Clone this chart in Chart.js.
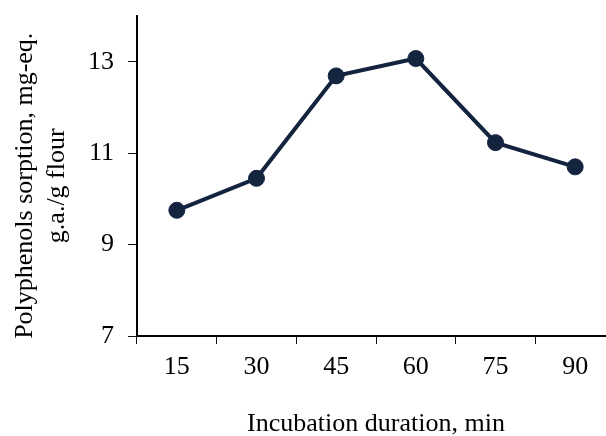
<!DOCTYPE html>
<html>
<head>
<meta charset="utf-8">
<script src="https://cdn.jsdelivr.net/npm/chart.js@4/dist/chart.umd.min.js"></script>
<style>
html,body{margin:0;padding:0;background:#fff;overflow:hidden;width:606px;height:436px;}
#wrap{width:624px;height:436px;position:relative;}
canvas{display:block;}
</style>
</head>
<body>
<div id="wrap"><canvas id="c" width="624" height="436"></canvas></div>
<script>
const categories = ["15", "30", "45", "60", "75", "90"];
const sorption = [9.75, 10.45, 12.69, 13.07, 11.23, 10.70];
const yTicks = [7, 9, 11, 13];
const yTitle = ["Polyphenols sorption, mg-eq.   ", "g.a./g flour   "];
const xTitle = "Incubation duration, min";

const navy = "#14243f";
const font = {family: "'Liberation Serif', 'Times New Roman', serif", size: 26};

new Chart(document.getElementById("c"), {
  type: "line",
  data: {
    labels: categories,
    datasets: [{
      data: sorption,
      borderColor: navy,
      backgroundColor: navy,
      borderWidth: 4,
      pointRadius: 8,
      pointHoverRadius: 8,
      pointBorderWidth: 1,
      pointBackgroundColor: navy,
      pointBorderColor: navy,
      tension: 0
    }]
  },
  options: {
    responsive: false,
    animation: false,
    events: [],
    layout: {padding: {top: 16, right: 1, left: 4, bottom: 0}},
    plugins: {legend: {display: false}, tooltip: {enabled: false}},
    scales: {
      x: {
        type: "category",
        offset: true,
        grid: {offset: true, drawOnChartArea: false, drawTicks: true, tickLength: 8, color: "#111", lineWidth: 1},
        border: {display: true, color: "#000", width: 2},
        ticks: {color: "#000", font: font, padding: 8, maxRotation: 0},
        title: {display: true, text: xTitle, color: "#000", font: font, padding: {top: 26, bottom: -4}},
        afterFit(s) { s.height = 100; s.paddingLeft = 0; s.paddingRight = 0; }
      },
      y: {
        type: "linear",
        min: 7,
        max: 14,
        afterBuildTicks(s) { s.ticks = yTicks.map(v => ({value: v})); },
        grid: {drawOnChartArea: false, drawTicks: true, tickLength: 9, color: "#111", lineWidth: 1},
        border: {display: true, color: "#000", width: 2},
        ticks: {color: "#000", font: font, padding: 14},
        title: {display: true, text: yTitle, color: "#000", font: font, padding: {top: 6, bottom: 0}},
        afterFit(s) { s.width = 133; s.paddingTop = 0; s.paddingBottom = 0; }
      }
    }
  }
});
</script>
</body>
</html>
